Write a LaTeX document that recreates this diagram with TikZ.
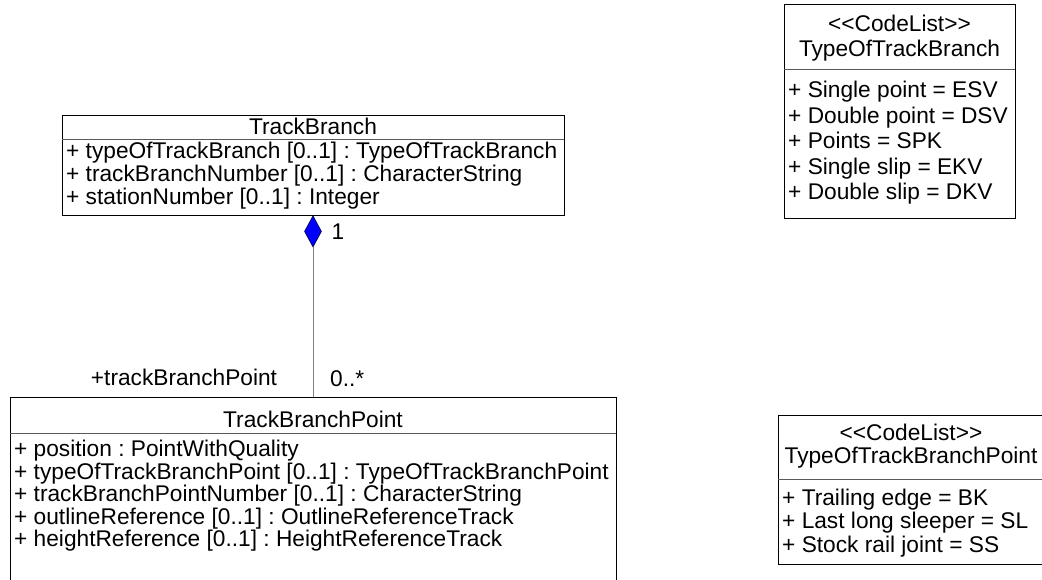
\documentclass[tikz,border=0pt]{standalone}
\usepackage{fontspec}
\setmainfont{Liberation Sans}
\usetikzlibrary{shapes.geometric}
\newcommand{\stereo}[1]{<\kern0pt<#1>\kern0pt>}
\begin{document}
\begin{tikzpicture}[x=1pt,y=-1pt,
  classbox/.style={draw=black, line width=1pt, inner sep=0pt, fill=white},
  sepline/.style={draw=black!65, line width=1pt},
  attr/.style={font=\fontsize{22.7}{27}\selectfont\frenchspacing, inner sep=0pt, anchor=base west},
  ctitle/.style={font=\fontsize{22.7}{27}\selectfont\frenchspacing, inner sep=0pt, anchor=base},
  assoc/.style={draw=black!50, line width=1pt},
  compo/.style={diamond, fill=blue, draw=blue!40!black, line width=0.8pt, inner sep=0pt, minimum width=17, minimum height=31}
]
\useasboundingbox (0,0) rectangle (1042,579);
\clip (0,0) rectangle (1042,579);

% TrackBranch
\node[classbox, minimum width=502, minimum height=100] (tb) at (313,165) {};
\draw[sepline] (62,139) -- (564,139);
\node[ctitle] (tbh) at (313,134.5) {TrackBranch};
\node[attr] (tba1) at (66,158.5) {+ typeOfTrackBranch [0..1] : TypeOfTrackBranch};
\node[attr] (tba2) at (66,181.5) {+ trackBranchNumber [0..1] : CharacterString};
\node[attr] (tba3) at (66,204.5) {+ stationNumber [0..1] : Integer};

% TrackBranchPoint
\node[classbox, minimum width=606, minimum height=223] (tbp) at (313,508.5) {};
\draw[sepline] (10,433) -- (616,433);
\node[ctitle] (tbph) at (313,427.5) {TrackBranchPoint};
\node[attr] (tbpa1) at (14,456.5) {+ position : PointWithQuality};
\node[attr] (tbpa2) at (14,479) {+ typeOfTrackBranchPoint [0..1] : TypeOfTrackBranchPoint};
\node[attr] (tbpa3) at (14,501.5) {+ trackBranchPointNumber [0..1] : CharacterString};
\node[attr] (tbpa4) at (14,524) {+ outlineReference [0..1] : OutlineReferenceTrack};
\node[attr] (tbpa5) at (14,546.5) {+ heightReference [0..1] : HeightReferenceTrack};

% association (composition)
\node[compo, anchor=north] (dia) at (tb.south) {};
\draw[assoc] (dia.south) -- (tbp.north);
\node[ctitle] (m1) at (338,239.5) {1};
\node[attr] (m2) at (330,386) {0..*};
\node[ctitle] (role) at (184,385.5) {+trackBranchPoint};

% CodeList TypeOfTrackBranch
\node[classbox, minimum width=231, minimum height=214] (cl1) at (899.5,111) {};
\draw[sepline] (784,69) -- (1015,69);
\node[ctitle] (cl1s) at (899.5,31) {\stereo{CodeList}};
\node[ctitle] (cl1h) at (899.5,56.5) {TypeOfTrackBranch};
\node[attr] (cl1a1) at (788,97.5) {+ Single point = ESV};
\node[attr] (cl1a2) at (788,123) {+ Double point = DSV};
\node[attr] (cl1a3) at (788,148.5) {+ Points = SPK};
\node[attr] (cl1a4) at (788,174) {+ Single slip = EKV};
\node[attr] (cl1a5) at (788,199.5) {+ Double slip = DKV};

% CodeList TypeOfTrackBranchPoint
\node[classbox, minimum width=268, minimum height=149] (cl2) at (912,489.5) {};
\draw[sepline] (778,479) -- (1046,479);
\node[ctitle] (cl2s) at (911,440.5) {\stereo{CodeList}};
\node[ctitle] (cl2h) at (911,463.5) {TypeOfTrackBranchPoint};
\node[attr] (cl2a1) at (782,505) {+ Trailing edge = BK};
\node[attr] (cl2a2) at (782,528.5) {+ Last long sleeper = SL};
\node[attr] (cl2a3) at (782,552.5) {+ Stock rail joint = SS};
\end{tikzpicture}
\end{document}
